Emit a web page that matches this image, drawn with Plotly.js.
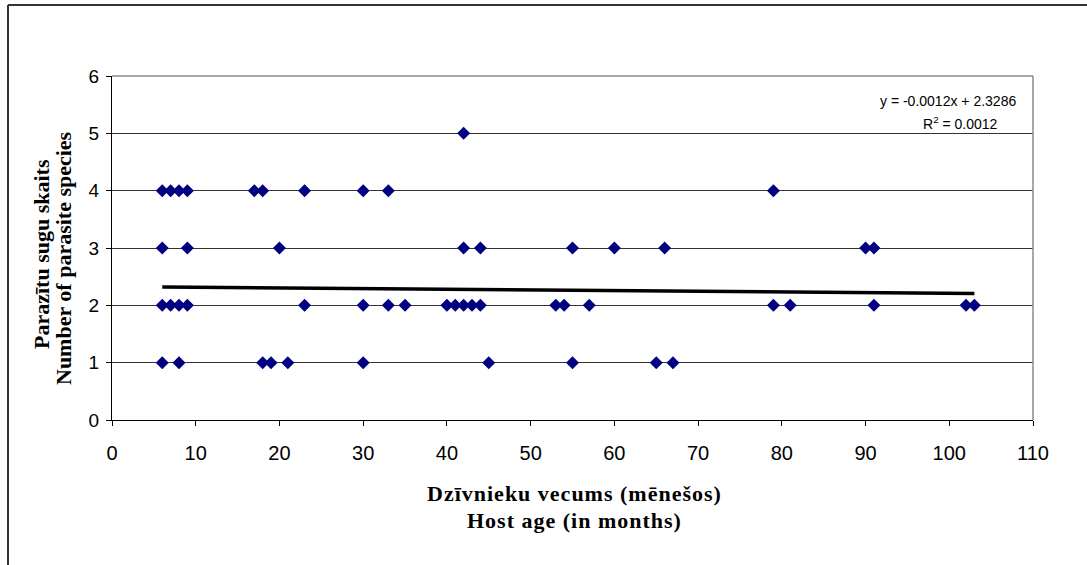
<!DOCTYPE html>
<html>
<head>
<meta charset="utf-8">
<script src="https://cdn.plot.ly/plotly-3.0.1.min.js"></script>
<style>
html, body { margin: 0; padding: 0; background: #fff; }
#chart { width: 1087px; height: 565px; }
#chart .annotation[data-index="2"] text, #chart .annotation[data-index="3"] text { letter-spacing: 1px; }
</style>
</head>
<body>
<div id="chart"></div>
<script>
// Host age (months) and number of parasite species per animal
const hostAge = [
  6, 7, 8, 9, 17, 18, 23, 30, 33, 79,
  42,
  6, 9, 20, 42, 44, 55, 60, 66, 90, 91,
  6, 7, 8, 9, 23, 30, 33, 35, 40, 41, 42, 43, 44, 53, 54, 57, 79, 81, 91, 102, 103,
  6, 8, 18, 19, 21, 30, 45, 55, 65, 67
];
const parasiteSpecies = [
  4, 4, 4, 4, 4, 4, 4, 4, 4, 4,
  5,
  3, 3, 3, 3, 3, 3, 3, 3, 3, 3,
  2, 2, 2, 2, 2, 2, 2, 2, 2, 2, 2, 2, 2, 2, 2, 2, 2, 2, 2, 2, 2,
  1, 1, 1, 1, 1, 1, 1, 1, 1, 1
];
// Linear trend as shown on the chart
const trendSlope = -0.0012;
const trendIntercept = 2.3286;
const trendR2 = 0.0012;
const trendX = [6, 103];
const trendY = trendX.map(x => trendIntercept + trendSlope * x);

const xTicks = [0, 10, 20, 30, 40, 50, 60, 70, 80, 90, 100, 110];
const yTicks = [0, 1, 2, 3, 4, 5, 6];

const L = 112, R = 1033, T = 76, B = 420, W = 1087, H = 565;
const px = x => (x - L) / (R - L);
const py = y => (B - y) / (B - T);

const traces = [
  {
    x: trendX, y: trendY, type: 'scatter', mode: 'lines',
    line: { color: '#000000', width: 3.5 },
    hoverinfo: 'skip', showlegend: false
  },
  {
    x: hostAge, y: parasiteSpecies, type: 'scatter', mode: 'markers',
    marker: { symbol: 'diamond', size: 10, color: '#000080', line: { width: 0 } },
    showlegend: false
  }
];

const serif = 'Liberation Serif, Times New Roman, serif';
const sans = 'Liberation Sans, Arial, sans-serif';

const layout = {
  width: W, height: H,
  margin: { l: L, r: W - R, t: T, b: H - B, pad: 0 },
  paper_bgcolor: '#ffffff', plot_bgcolor: '#ffffff',
  showlegend: false,
  xaxis: {
    range: [0, 110], tickvals: xTicks, ticktext: xTicks.map(String),
    showgrid: false, zeroline: false,
    showline: true, linecolor: '#000000', linewidth: 1,
    ticks: 'outside', ticklen: 5, tickcolor: '#000000', tickwidth: 1,
    ticklabelstandoff: 10,
    tickfont: { family: sans, size: 20, color: '#000000' },
    fixedrange: true
  },
  yaxis: {
    range: [0, 6], tickvals: yTicks, ticktext: yTicks.map(String),
    showgrid: true, gridcolor: '#333333', gridwidth: 1,
    zeroline: false,
    showline: true, linecolor: '#000000', linewidth: 1,
    ticks: 'outside', ticklen: 5, tickcolor: '#000000', tickwidth: 1,
    ticklabelstandoff: 3,
    tickfont: { family: sans, size: 19, color: '#000000' },
    fixedrange: true
  },
  shapes: [
    // outer chart frame (top and left edges visible)
    { type: 'line', xref: 'paper', yref: 'paper', x0: px(8), x1: px(1095), y0: py(5), y1: py(5), line: { color: '#333333', width: 2 } },
    { type: 'line', xref: 'paper', yref: 'paper', x0: px(8), x1: px(8), y0: py(5), y1: py(575), line: { color: '#333333', width: 2 } },
    // plot area right and top borders
    { type: 'line', xref: 'paper', yref: 'paper', x0: 1, x1: 1, y0: 0, y1: 1, line: { color: '#8a8a8a', width: 1.5 } },
    { type: 'line', xref: 'paper', yref: 'paper', x0: 0, x1: 1, y0: 1, y1: 1, line: { color: '#8a8a8a', width: 1.5 } }
  ],
  annotations: [
    { xref: 'paper', yref: 'paper', x: px(41), y: py(254), text: 'Parazītu sugu skaits', textangle: -90, showarrow: false,
      xanchor: 'center', yanchor: 'middle', font: { family: serif, size: 22, color: '#000000', weight: 'bold' } },
    { xref: 'paper', yref: 'paper', x: px(63), y: py(258), text: 'Number of parasite species', textangle: -90, showarrow: false,
      xanchor: 'center', yanchor: 'middle', font: { family: serif, size: 22, color: '#000000', weight: 'bold' } },
    { xref: 'paper', yref: 'paper', x: px(574), y: py(493), text: 'Dzīvnieku vecums (mēnešos)', showarrow: false,
      xanchor: 'center', yanchor: 'middle', font: { family: serif, size: 22, color: '#000000', weight: 'bold' } },
    { xref: 'paper', yref: 'paper', x: px(574), y: py(520), text: 'Host age (in months)', showarrow: false,
      xanchor: 'center', yanchor: 'middle', font: { family: serif, size: 22, color: '#000000', weight: 'bold' } },
    { xref: 'paper', yref: 'paper', x: px(948), y: py(101), text: 'y = ' + trendSlope.toFixed(4) + 'x + ' + trendIntercept.toFixed(4), showarrow: false,
      xanchor: 'center', yanchor: 'middle', font: { family: sans, size: 14, color: '#000000' } },
    { xref: 'paper', yref: 'paper', x: px(960), y: py(123), text: 'R<sup>2</sup> = ' + trendR2.toFixed(4), showarrow: false,
      xanchor: 'center', yanchor: 'middle', font: { family: sans, size: 14, color: '#000000' } }
  ]
};

Plotly.newPlot('chart', traces, layout, { staticPlot: true, displayModeBar: false });
</script>
</body>
</html>
